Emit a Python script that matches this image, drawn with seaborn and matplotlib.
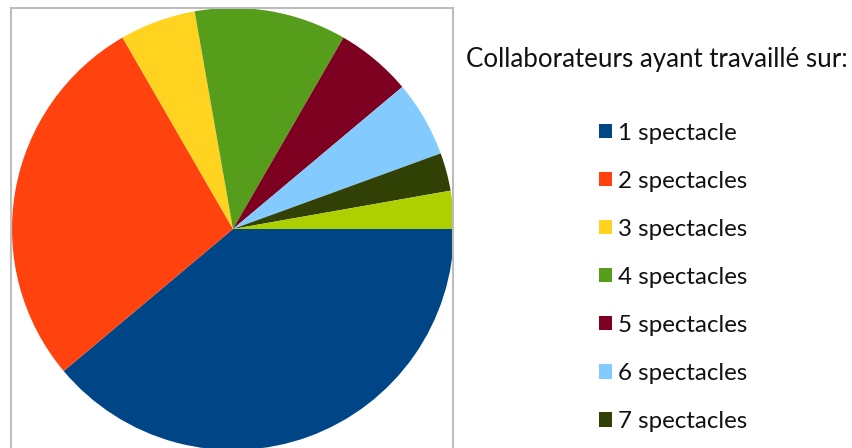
import matplotlib
matplotlib.use("Agg")
import matplotlib.pyplot as plt
import seaborn as sns
from matplotlib.patches import Rectangle

# data
labels = ["1 spectacle", "2 spectacles", "3 spectacles", "4 spectacles",
          "5 spectacles", "6 spectacles", "7 spectacles", "8 spectacles"]
counts = [14, 10, 2, 4, 2, 2, 1, 1]
colors = ["#004586", "#FF420E", "#FFD320", "#579D1C",
          "#7E0021", "#83CAFF", "#314004", "#AECF00"]
title = "Collaborateurs ayant travaillé sur:"

sns.set_theme(style="white")
plt.rcParams["font.family"] = ["Lato", "DejaVu Sans"]

W, H = 852, 448
fig = plt.figure(figsize=(W / 100, H / 100), dpi=100)

# pie: center (233, 229) px, radius 221 px
cx, cy, r = 233, 229, 221
ax = fig.add_axes([(cx - r) / W, (H - cy - r) / H, 2 * r / W, 2 * r / H])
wedges, _ = ax.pie(counts, colors=colors, startangle=0, counterclock=False,
                   radius=1, wedgeprops=dict(linewidth=0))
ax.set_xlim(-1, 1)
ax.set_ylim(-1, 1)
ax.set_aspect("equal")
ax.axis("off")

# plot area border
fig.patches.append(Rectangle((10.5 / W, -0.2), (453 - 10.5) / W, 0.2 + (H - 7.5) / H,
                             transform=fig.transFigure, fill=False,
                             edgecolor="#BDBDBD", linewidth=1.5))

fig.text(466 / W, (H - 59) / H, title, fontsize=18.6, color="#111111",
         ha="left", va="center")

# only the entries visible in the reference (the 8th falls below the edge)
n_shown = 7
fig.legend(wedges[:n_shown], labels[:n_shown], loc="upper left",
           bbox_to_anchor=(599 / W, (H - 122.5) / H), frameon=False,
           fontsize=17.4, handlelength=0.55, handleheight=0.55,
           handletextpad=0.25, labelspacing=1.12, borderaxespad=0,
           borderpad=0, labelcolor="#111111")

fig.savefig("out.png", dpi=100)
